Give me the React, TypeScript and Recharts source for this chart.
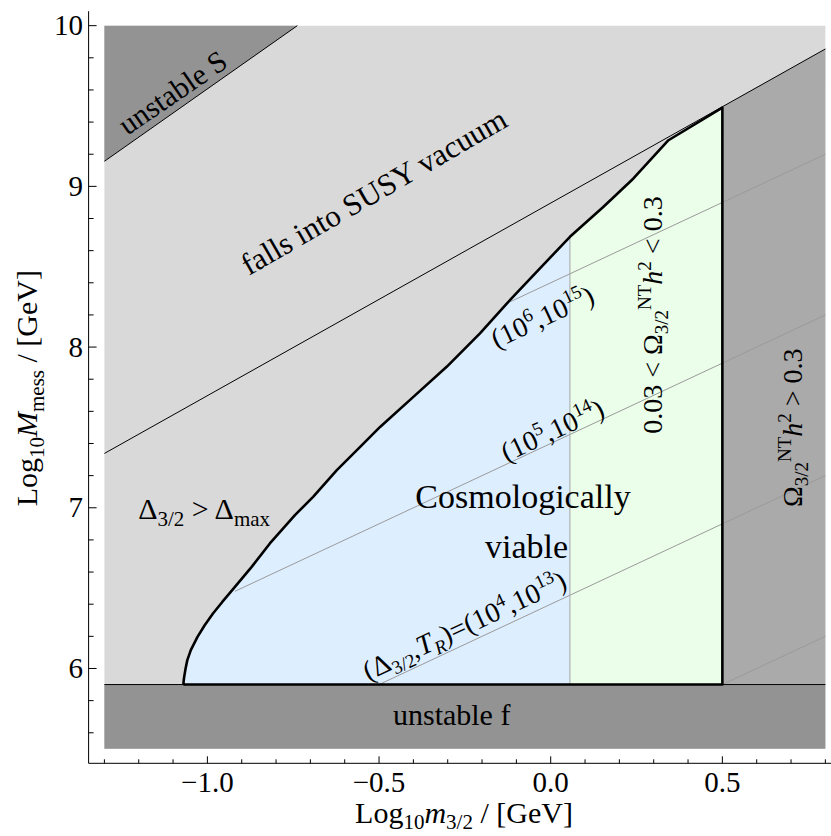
import React from 'react';
import { ComposedChart, Area, Line, XAxis, YAxis, ReferenceDot } from 'recharts';

const FONT = '"Liberation Serif", "Times New Roman", serif';

// axis ranges and ticks
const X_DOMAIN = [-1.346, 0.84];
const Y_DOMAIN = [5.41, 10.09];
const X_TICKS = [-1.3, -1.2, -1.1, -1.0, -0.9, -0.8, -0.7, -0.6, -0.5, -0.4, -0.3, -0.2, -0.1, 0.0, 0.1, 0.2, 0.3, 0.4, 0.5, 0.6, 0.7, 0.8];
const Y_TICKS = [5.6, 5.8, 6, 6.2, 6.4, 6.6, 6.8, 7, 7.2, 7.4, 7.6, 7.8, 8, 8.2, 8.4, 8.6, 8.8, 9, 9.2, 9.4, 9.6, 9.8, 10];

// plotted rectangle and the "unstable f" floor
const PLOT_X = [-1.3, 0.8];
const PLOT_Y = [5.5, 10];
const FLOOR_Y = 5.9;

// "unstable S" edge
const UNSTABLE_S_X = [-1.3, -0.738];
const UNSTABLE_S_Y = [9.156, 10];

// "falls into SUSY vacuum" edge
const SUSY_X = [-1.3, 0.8];
const SUSY_Y = [7.338, 9.855];

// Delta_3/2 = Delta_max boundary of the viable region
const BOUNDARY_X = [-1.07, -1.069, -1.0676, -1.0635, -1.0585, -1.0483, -1.0288, -1.0079, -0.9837, -0.9566, -0.9234, -0.871, -0.818, -0.745, -0.692, -0.623, -0.555, -0.497, -0.4, -0.303, -0.206, -0.128, -0.041, 0.056, 0.153, 0.241, 0.343, 0.5];
const BOUNDARY_Y = [5.9, 5.925, 5.948, 6.0, 6.052, 6.114, 6.197, 6.269, 6.342, 6.414, 6.498, 6.632, 6.778, 6.954, 7.068, 7.234, 7.379, 7.503, 7.69, 7.877, 8.085, 8.271, 8.468, 8.686, 8.872, 9.049, 9.287, 9.49];

// Omega h^2 = 0.03 split and 0.3 edge
const SPLIT_X = 0.056;
const OMEGA_MAX_X = 0.5;
const RIGHT_X = [0.5, 0.8];
const RIGHT_TOP_Y = [9.496, 9.855];

// (Delta_3/2, T_R) contours
const TR6_X = [-0.133, 0.8];
const TR6_Y = [8.267, 9.2];
const TR5_X = [-0.92, 0.8];
const TR5_Y = [6.48, 8.2];
const TR4_X = [-0.5, 0.8];
const TR4_Y = [5.9, 7.2];
const TR3_X = [0.5, 0.8];
const TR3_Y = [5.9, 6.2];

const pts = (xs: number[], ys: number[]) => xs.map((x, i) => ({ x, y: ys[i] }));
const band = (xs: number[], lo: number[], hi: number[]) => xs.map((x, i) => ({ x, r: [lo[i], hi[i]] }));

const boundary = pts(BOUNDARY_X, BOUNDARY_Y);
const blueData = boundary.filter(p => p.x <= SPLIT_X + 1e-9).map(p => ({ x: p.x, r: [FLOOR_Y, p.y] }));
const greenData = boundary.filter(p => p.x >= SPLIT_X - 1e-9).map(p => ({ x: p.x, r: [FLOOR_Y, p.y] }));
const outline = [...boundary, { x: OMEGA_MAX_X, y: FLOOR_Y }, { x: BOUNDARY_X[0], y: FLOOR_Y }];
const splitLine = [{ x: SPLIT_X, y: FLOOR_Y }, { x: SPLIT_X, y: BOUNDARY_Y[BOUNDARY_X.indexOf(SPLIT_X)] }];

const isMajor = (v: number) => Math.abs(v * 2 - Math.round(v * 2)) < 1e-6;
const fmtX = (v: number) => (Math.abs(v) < 1e-9 ? '0.0' : v.toFixed(1).replace('-', '\u2212'));

const BottomTick = (p: any) => {
  const v = p.payload.value;
  const major = isMajor(v);
  return (
    <g>
      <line x1={p.x} x2={p.x} y1={p.y} y2={p.y - (major ? 7 : 4)} stroke="#000" strokeWidth={1} />
      {major && (
        <text x={p.x} y={p.y + 28.4} textAnchor="middle" fontFamily={FONT} fontSize={29} fill="#000">{fmtX(v)}</text>
      )}
    </g>
  );
};

const TopTick = (p: any) => {
  const major = isMajor(p.payload.value);
  return <line x1={p.x} x2={p.x} y1={p.y} y2={p.y + (major ? 7 : 4)} stroke="#000" strokeWidth={1} />;
};

const LeftTick = (p: any) => {
  const v = p.payload.value;
  const major = Math.abs(v - Math.round(v)) < 1e-6;
  return (
    <g>
      <line x1={p.x} x2={p.x + (major ? 8 : 5)} y1={p.y} y2={p.y} stroke="#000" strokeWidth={1} />
      {major && (
        <text x={p.x - 5.7} y={p.y + 9.5} textAnchor="end" fontFamily={FONT} fontSize={29} fill="#000">{String(Math.round(v))}</text>
      )}
    </g>
  );
};

const T = (props: any) => (
  <text fontFamily={FONT} fill="#000" style={{ whiteSpace: 'pre' }} {...props} />
);

const textAt = (key: string, x: number, y: number, render: (cx: number, cy: number) => React.ReactElement) => (
  <ReferenceDot
    key={key}
    xAxisId="b"
    yAxisId="l"
    x={x}
    y={y}
    r={0}
    ifOverflow="visible"
    shape={(p: any) => render(p.cx, p.cy)}
  />
);

const rot = (cx: number, cy: number, a: number) => `translate(${cx},${cy}) rotate(${a})`;

export default function App() {
  const axisIds = { xAxisId: 'b', yAxisId: 'l' };
  const thin = { dot: false, activeDot: false, isAnimationActive: false, legendType: 'none' as const };
  const fill = { stroke: 'none', fillOpacity: 1, dot: false, activeDot: false, isAnimationActive: false, legendType: 'none' as const };

  return (
    <div style={{ position: 'absolute', left: 0, top: 0, width: 831, height: 836, overflow: 'hidden', background: '#fff' }}>
      <ComposedChart width={840} height={836} margin={{ top: 11.2, right: 0.9, bottom: 0, left: 0 }}>
        <XAxis xAxisId="b" type="number" dataKey="x" domain={X_DOMAIN} allowDataOverflow ticks={X_TICKS} interval={0}
          tickSize={0} tickMargin={0} height={72.7} axisLine={{ stroke: '#000' }} tickLine={false} tick={BottomTick} />
        <XAxis xAxisId="t" orientation="top" type="number" dataKey="x" domain={X_DOMAIN} allowDataOverflow ticks={X_TICKS} interval={0}
          tickSize={0} tickMargin={0} height={0} axisLine={{ stroke: '#000' }} tickLine={false} tick={TopTick} />
        <YAxis yAxisId="l" type="number" domain={Y_DOMAIN} allowDataOverflow ticks={Y_TICKS} interval={0}
          tickSize={0} tickMargin={0} width={88.6} axisLine={{ stroke: '#000' }} tickLine={false} tick={LeftTick} />

        {/* filled regions */}
        <Area {...axisIds} {...fill} type="linear" data={band(PLOT_X, [PLOT_Y[0], PLOT_Y[0]], [PLOT_Y[1], PLOT_Y[1]])} dataKey="r" fill="#d9d9d9" />
        <Area {...axisIds} {...fill} type="linear" data={band(UNSTABLE_S_X, UNSTABLE_S_Y, [PLOT_Y[1], PLOT_Y[1]])} dataKey="r" fill="#939393" />
        <Area {...axisIds} {...fill} type="linear" data={band(PLOT_X, [PLOT_Y[0], PLOT_Y[0]], [FLOOR_Y, FLOOR_Y])} dataKey="r" fill="#939393" />
        <Area {...axisIds} {...fill} type="linear" data={band(RIGHT_X, [FLOOR_Y, FLOOR_Y], RIGHT_TOP_Y)} dataKey="r" fill="#aaaaaa" />
        <Area {...axisIds} {...fill} type="linear" data={blueData} dataKey="r" fill="#ddeeff" />
        <Area {...axisIds} {...fill} type="linear" data={greenData} dataKey="r" fill="#eafeea" />

        {/* contours */}
        <Line {...axisIds} {...thin} type="linear" data={pts(TR6_X, TR6_Y)} dataKey="y" stroke="#9a9a9a" strokeWidth={1} />
        <Line {...axisIds} {...thin} type="linear" data={pts(TR5_X, TR5_Y)} dataKey="y" stroke="#9a9a9a" strokeWidth={1} />
        <Line {...axisIds} {...thin} type="linear" data={pts(TR4_X, TR4_Y)} dataKey="y" stroke="#9a9a9a" strokeWidth={1} />
        <Line {...axisIds} {...thin} type="linear" data={pts(TR3_X, TR3_Y)} dataKey="y" stroke="#9a9a9a" strokeWidth={1} />
        <Line {...axisIds} {...thin} type="linear" data={splitLine} dataKey="y" stroke="#a6a6a6" strokeWidth={1} />
        <Line {...axisIds} {...thin} type="linear" data={pts(SUSY_X, SUSY_Y)} dataKey="y" stroke="#000" strokeWidth={1} />
        <Line {...axisIds} {...thin} type="linear" data={pts(UNSTABLE_S_X, UNSTABLE_S_Y)} dataKey="y" stroke="#000" strokeWidth={1} />
        <Line {...axisIds} {...thin} type="linear" data={pts(PLOT_X, [FLOOR_Y, FLOOR_Y])} dataKey="y" stroke="#000" strokeWidth={1} />
        <Line {...axisIds} {...thin} type="linear" data={outline} dataKey="y" stroke="#000" strokeWidth={2.6} strokeLinejoin="round" />

        {/* region labels */}
        {textAt('uS', -1.0845, 9.532, (cx, cy) => (
          <T transform={rot(cx, cy, -34.5)} textAnchor="middle" fontSize={30}>unstable S</T>
        ))}
        {textAt('susy', -0.5, 8.91, (cx, cy) => (
          <T transform={rot(cx, cy, -30)} textAnchor="middle" fontSize={31}>falls into SUSY vacuum</T>
        ))}
        {textAt('dmax', -1.2015, 6.929, (cx, cy) => (
          <T x={cx} y={cy} fontSize={30}>Δ<tspan dy={7} fontSize={21}>3/2</tspan><tspan dy={-7}>{' > Δ'}</tspan><tspan dy={7} fontSize={21}>max</tspan></T>
        ))}
        {textAt('cosmo', -0.0806, 6.998, (cx, cy) => (
          <T x={cx} y={cy} textAnchor="middle" fontSize={34}>Cosmologically</T>
        ))}
        {textAt('viable', -0.0705, 6.686, (cx, cy) => (
          <T x={cx} y={cy} textAnchor="middle" fontSize={34}>viable</T>
        ))}
        {textAt('tr6', -0.0125, 8.135, (cx, cy) => (
          <T transform={rot(cx, cy, -25.1)} textAnchor="middle" fontSize={28}>(10<tspan dy={-11} fontSize={19}>6</tspan><tspan dy={11}>,10</tspan><tspan dy={-11} fontSize={19}>15</tspan><tspan dy={11}>)</tspan></T>
        ))}
        {textAt('tr5', 0.0166, 7.429, (cx, cy) => (
          <T transform={rot(cx, cy, -25.1)} textAnchor="middle" fontSize={28}>(10<tspan dy={-11} fontSize={19}>5</tspan><tspan dy={11}>,10</tspan><tspan dy={-11} fontSize={19}>14</tspan><tspan dy={11}>)</tspan></T>
        ))}
        {textAt('tr4', -0.2397, 6.214, (cx, cy) => (
          <T transform={rot(cx, cy, -25.1)} textAnchor="middle" fontSize={28}>(Δ<tspan dy={6} fontSize={19}>3/2</tspan><tspan dy={-6}>,</tspan><tspan fontStyle="italic">T</tspan><tspan dy={6} fontSize={19} fontStyle="italic">R</tspan><tspan dy={-6}>)=(10</tspan><tspan dy={-11} fontSize={19}>4</tspan><tspan dy={11}>,10</tspan><tspan dy={-11} fontSize={19}>13</tspan><tspan dy={11}>)</tspan></T>
        ))}
        {textAt('om1', 0.3233, 8.199, (cx, cy) => (
          <T transform={rot(cx, cy, -90)} textAnchor="middle" fontSize={28}>{'0.03 < Ω'}<tspan dy={6} fontSize={19}>3/2</tspan><tspan dy={-17} fontSize={19}>NT</tspan><tspan dy={11} fontStyle="italic">h</tspan><tspan dy={-11} fontSize={19}>2</tspan><tspan dy={11}>{' < 0.3'}</tspan></T>
        ))}
        {textAt('om2', 0.7311, 7.498, (cx, cy) => (
          <T transform={rot(cx, cy, -90)} textAnchor="middle" fontSize={28}>Ω<tspan dy={6} fontSize={19}>3/2</tspan><tspan dy={-17} fontSize={19}>NT</tspan><tspan dy={11} fontStyle="italic">h</tspan><tspan dy={-11} fontSize={19}>2</tspan><tspan dy={11}>{' > 0.3'}</tspan></T>
        ))}
        {textAt('uf', -0.2884, 5.647, (cx, cy) => (
          <T x={cx} y={cy} textAnchor="middle" fontSize={30}>unstable f</T>
        ))}

        {/* axis titles */}
        {textAt('xt', -0.2525, 5.037, (cx, cy) => (
          <T x={cx} y={cy} textAnchor="middle" fontSize={30}>Log<tspan dy={6} fontSize={21}>10</tspan><tspan dy={-6} fontStyle="italic">m</tspan><tspan dy={6} fontSize={21}>3/2</tspan><tspan dy={-6}>{' / [GeV]'}</tspan></T>
        ))}
        {textAt('yt', -1.496, 7.744, (cx, cy) => (
          <T transform={rot(cx, cy, -90)} textAnchor="middle" fontSize={30}>Log<tspan dy={7} fontSize={21}>10</tspan><tspan dy={-7} fontStyle="italic">M</tspan><tspan dy={7} fontSize={21}>mess</tspan><tspan dy={-7}>{' / [GeV]'}</tspan></T>
        ))}
      </ComposedChart>
    </div>
  );
}
